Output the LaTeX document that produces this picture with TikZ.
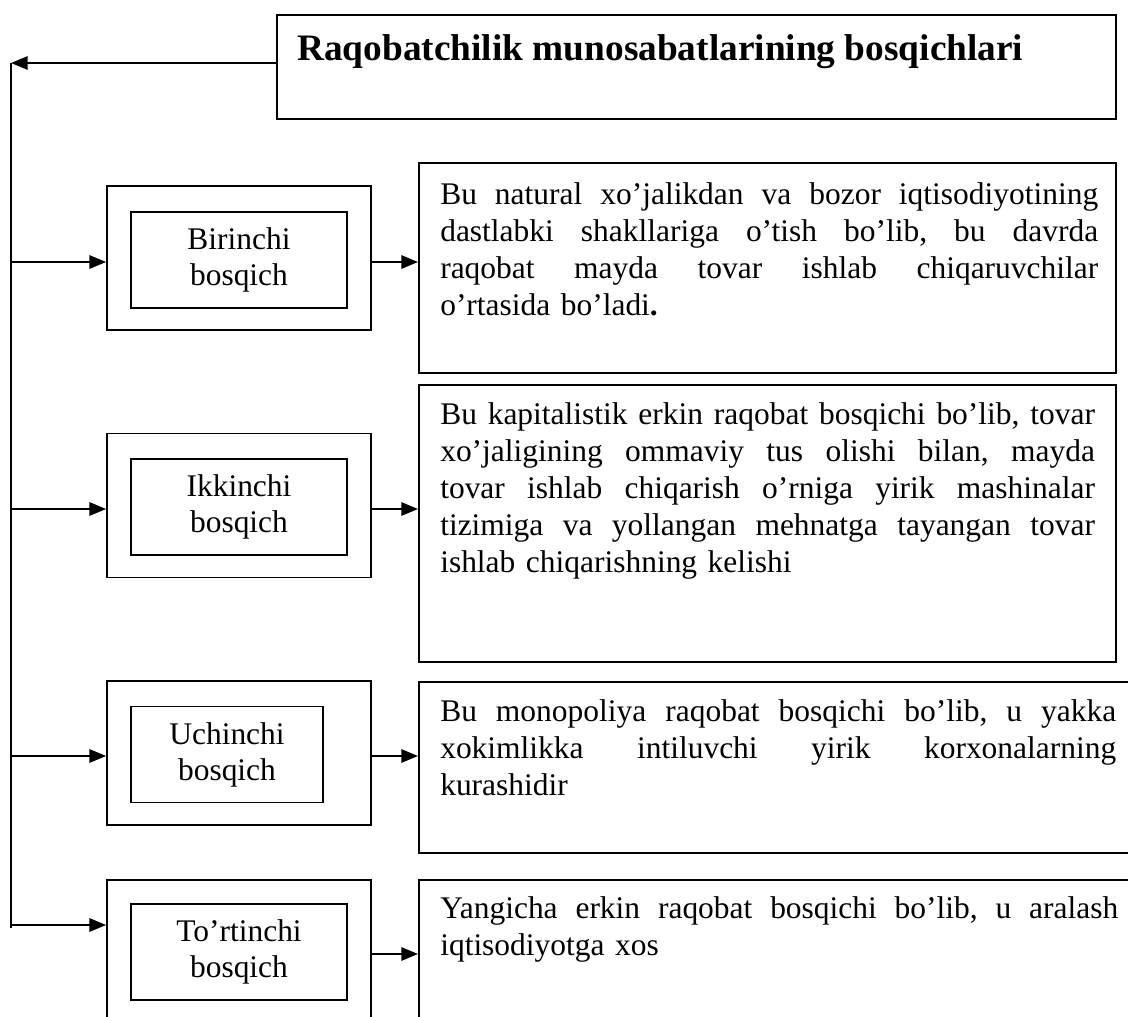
\documentclass[tikz,border=0pt]{standalone}
\usepackage{fontspec}
\setmainfont{Liberation Serif}
\usetikzlibrary{arrows.meta,calc,positioning}
\frenchspacing

\newlength{\descw}
\setlength{\descw}{491pt}
% one justified line of a description
\newcommand{\jline}[1]{\hbox to\descw{\spaceskip=.25em plus .8em minus .08em\relax #1}}

\begin{document}
\begin{tikzpicture}[x=0.75pt,y=-0.75pt,
  box/.style={draw,line width=1.3pt,inner sep=0pt},
  stagebox/.style={box,align=center,font=\fontsize{23.6}{27}\selectfont},
  desc/.style={inner sep=0pt,anchor=north west,align=left,text width=510pt,
    font=\fontsize{23.6}{27.75}\selectfont},
  link/.style={line width=1.4pt,-{Triangle[length=12.5pt,width=10pt]}}]
  \useasboundingbox (0,0) rectangle (1128,1017);
  \clip (0,0) rectangle (1128,1017);

  % title
  \node[box,anchor=north west,minimum width=629.25pt,minimum height=78pt] (head) at (276,14) {};
  \node[anchor=base west,inner sep=0pt,font=\bfseries\fontsize{28}{32}\selectfont] (headtext)
    at ($(head.north west)+(21,46)$) {Raqobatchilik munosabatlarining bosqichlari};

  % stages
  \node[box,minimum width=198pt,minimum height=108pt] (s1) at (239,258) {};
  \node[stagebox,minimum width=162pt,minimum height=72pt] (i1) at (239,260) {Birinchi\\bosqich};
  \node[box,minimum width=198pt,minimum height=108pt] (s2) at (239,505.5) {};
  \node[stagebox,minimum width=162pt,minimum height=72pt] (i2) at (239,507) {Ikkinchi\\bosqich};
  \node[box,minimum width=198pt,minimum height=108pt] (s3) at (239,753) {};
  \node[stagebox,minimum width=144pt,minimum height=72pt] (i3) at (227,754.5) {Uchinchi\\bosqich};
  \node[box,anchor=north,minimum width=198pt,minimum height=150pt] (s4) at (239,879) {};
  \node[stagebox,minimum width=162pt,minimum height=72pt] (i4) at (239,952) {To’rtinchi\\bosqich};

  % descriptions
  \node[box,anchor=north west,minimum width=522.75pt,minimum height=157.5pt] (d1) at (418,162) {};
  \node[desc] (t1) at ($(d1.north west)+(22,20)$) {%
    \setlength{\descw}{493.5pt}%
    \jline{Bu natural xo’jalikdan va bozor iqtisodiyotining}
    \jline{dastlabki shakllariga o’tish bo’lib, bu davrda}
    \jline{raqobat mayda tovar ishlab chiqaruvchilar}
    o’rtasida bo’ladi\textbf{.}};
  \node[box,anchor=north west,minimum width=522.75pt,minimum height=207.75pt] (d2) at (418,384) {};
  \node[desc] (t2) at ($(d2.north west)+(22,18)$) {%
    \jline{Bu kapitalistik erkin raqobat bosqichi bo’lib, tovar}
    \jline{xo’jaligining ommaviy tus olishi bilan, mayda}
    \jline{tovar ishlab chiqarish o’rniga yirik mashinalar}
    \jline{tizimiga va yollangan mehnatga tayangan tovar}
    ishlab chiqarishning kelishi};
  \node[box,anchor=north west,minimum width=545.25pt,minimum height=128.25pt] (d3) at (418,681) {};
  \node[desc] (t3) at ($(d3.north west)+(22,18)$) {%
    \setlength{\descw}{507pt}%
    \jline{Bu monopoliya raqobat bosqichi bo’lib, u yakka}
    \jline{xokimlikka intiluvchi yirik korxonalarning}
    kurashidir};
  \node[box,anchor=north west,minimum width=545.25pt,minimum height=150pt] (d4) at (418,879) {};
  \node[desc] (t4) at ($(d4.north west)+(22,17)$) {%
    \setlength{\descw}{508.5pt}%
    \jline{Yangicha erkin raqobat bosqichi bo’lib, u aralash}
    iqtisodiyotga xos};

  % trunk and branches
  \coordinate (top) at (11,63);
  \coordinate (bot) at (11,928);
  \draw[link] (head.west |- top) -- (top);
  \draw[line width=1.4pt] (top) -- (bot);

  \coordinate (j1) at (11,262);
  \coordinate (j2) at (11,509);
  \coordinate (j3) at (11,756);
  \coordinate (j4) at (11,925);
  \coordinate (r4) at (380,954);
  \draw[link] (j1) -- (j1 -| s1.west);
  \draw[link] (s1.east |- j1) -- (d1.west |- j1);
  \draw[link] (j2) -- (j2 -| s2.west);
  \draw[link] (s2.east |- j2) -- (d2.west |- j2);
  \draw[link] (j3) -- (j3 -| s3.west);
  \draw[link] (s3.east |- j3) -- (d3.west |- j3);
  \draw[link] (j4) -- (j4 -| s4.west);
  \draw[link] (s4.east |- r4) -- (d4.west |- r4);
\end{tikzpicture}
\end{document}
